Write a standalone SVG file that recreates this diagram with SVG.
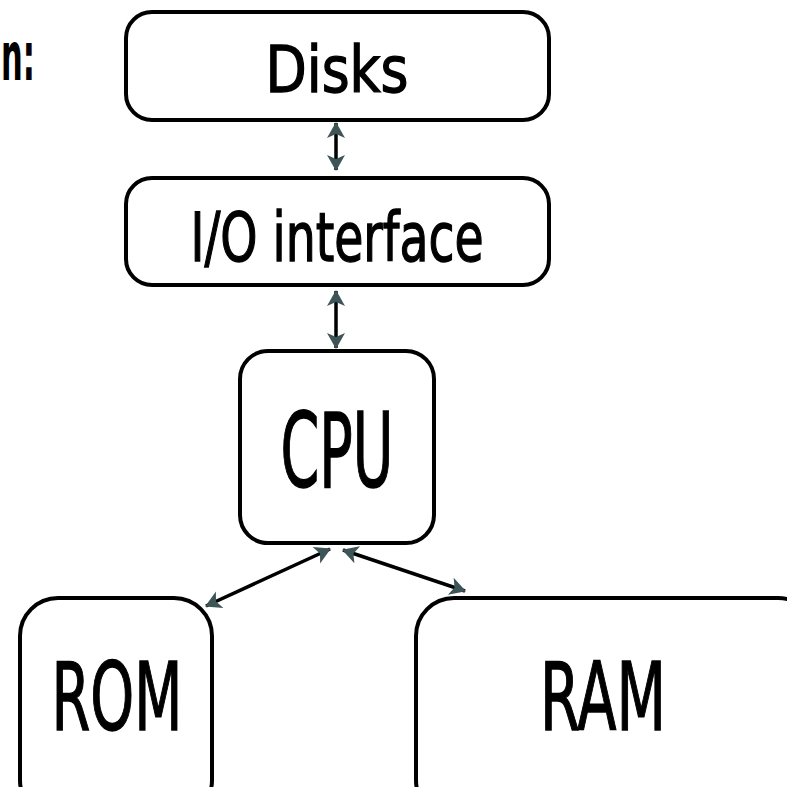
<svg xmlns="http://www.w3.org/2000/svg" width="787" height="787" viewBox="0 0 787 787">
<style>
.box{fill:#fff;stroke:#000;stroke-width:4}
.lbl{font-family:"DejaVu Sans","Liberation Sans",sans-serif;font-stretch:condensed;fill:#000;stroke:#000;stroke-width:1.3;text-anchor:middle}
.conn{stroke:#000;stroke-width:3.5;fill:none;marker-start:url(#ah);marker-end:url(#ah)}
</style>
<defs>
<marker id="ah" markerUnits="userSpaceOnUse" markerWidth="16" markerHeight="18" refX="15" refY="9" orient="auto-start-reverse" viewBox="0 0 16 18" overflow="visible">
<path d="M0,0 L16,9 L0,18 L4,9 z" fill="#3d5557"/>
</marker>
</defs>
<rect width="787" height="787" fill="#fff"/>
<text x="1" y="80" font-family="DejaVu Sans, Liberation Sans, sans-serif" font-weight="bold" font-size="68" textLength="34" lengthAdjust="spacingAndGlyphs">n:</text>
<g id="connectors">
<line class="conn" x1="336" y1="123" x2="336" y2="170"/>
<line class="conn" x1="336" y1="291" x2="336" y2="348"/>
<line class="conn" x1="330" y1="549" x2="206" y2="606"/>
<line class="conn" x1="343" y1="550" x2="465" y2="591"/>
</g>
<g id="disks">
<rect class="box" x="126" y="12" width="423" height="108" rx="26"/>
<text class="lbl" x="337" y="92" font-size="64" textLength="143" lengthAdjust="spacingAndGlyphs">Disks</text>
</g>
<g id="io">
<rect class="box" x="126" y="178" width="423" height="107" rx="26"/>
<text class="lbl" x="337" y="261" font-size="68" textLength="293" lengthAdjust="spacingAndGlyphs">I/O interface</text>
</g>
<g id="cpu">
<rect class="box" x="240" y="351" width="194" height="192" rx="28"/>
<text class="lbl" x="337" y="487" font-size="104" textLength="113" lengthAdjust="spacingAndGlyphs">CPU</text>
</g>
<g id="rom">
<rect class="box" x="20" y="598" width="192" height="220" rx="38"/>
<text class="lbl" x="117" y="730" font-size="95" textLength="131" lengthAdjust="spacingAndGlyphs">ROM</text>
</g>
<g id="ram">
<rect class="box" x="416" y="598" width="400" height="220" rx="38"/>
<text class="lbl" x="603" y="730" font-size="95" textLength="126" lengthAdjust="spacingAndGlyphs">RAM</text>
</g>
</svg>
